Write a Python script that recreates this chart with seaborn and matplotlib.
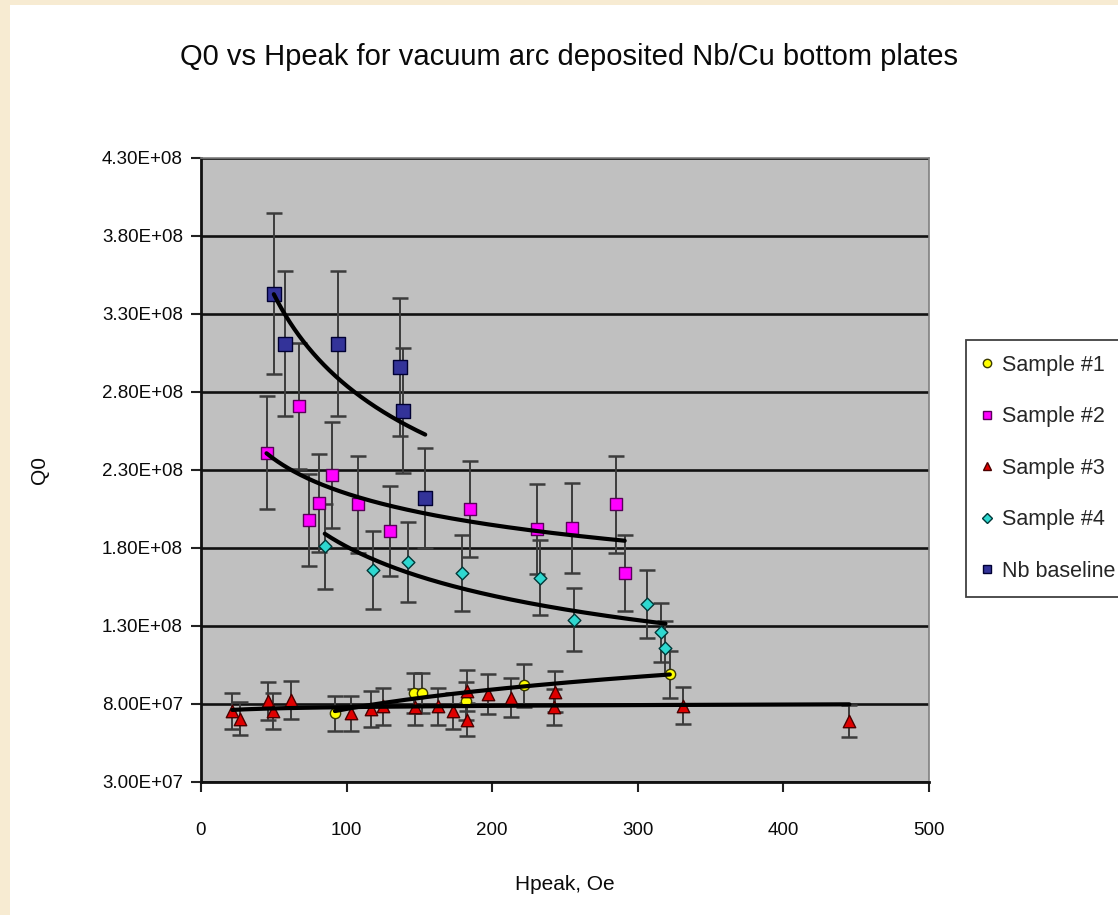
import numpy as np
import pandas as pd
import matplotlib
matplotlib.use("Agg")
import matplotlib.pyplot as plt
from matplotlib import font_manager
from matplotlib.lines import Line2D
from matplotlib.patches import Rectangle
import seaborn as sns

# Hpeak (Oe) and Q0 for each cavity bottom plate
s1_h = [92, 146, 152, 182, 222, 322]
s1_q = [0.74e8, 0.87e8, 0.87e8, 0.82e8, 0.92e8, 0.99e8]

s2_h = [45, 67, 74, 81, 90, 108, 130, 185, 231, 255, 285, 291]
s2_q = [2.41e8, 2.71e8, 1.98e8, 2.09e8, 2.27e8, 2.08e8, 1.91e8, 2.05e8,
        1.92e8, 1.93e8, 2.08e8, 1.64e8]

s3_h = [21.5, 26.8, 46.2, 49.7, 61.6, 102.8, 116.5, 125.2, 147, 163, 172.9,
        182.5, 182.9, 197.3, 212.7, 242.4, 243.1, 331.3, 445.3]
s3_q = [0.755e8, 0.705e8, 0.82e8, 0.755e8, 0.825e8, 0.74e8, 0.77e8, 0.785e8,
        0.78e8, 0.785e8, 0.755e8, 0.885e8, 0.70e8, 0.865e8, 0.84e8, 0.78e8,
        0.88e8, 0.79e8, 0.69e8]

s4_h = [85, 118, 142, 179, 233, 256, 306, 316, 319]
s4_q = [1.81e8, 1.66e8, 1.71e8, 1.64e8, 1.61e8, 1.34e8, 1.44e8, 1.26e8, 1.16e8]

nb_h = [50, 58, 94, 137, 139, 154]
nb_q = [3.43e8, 3.11e8, 3.11e8, 2.96e8, 2.68e8, 2.12e8]

series_names = ["Sample #1", "Sample #2", "Sample #3", "Sample #4", "Nb baseline"]
ERR_FRACTION = 0.15  # percentage error bars

y_ticks = [3.0e7, 8.0e7, 1.3e8, 1.8e8, 2.3e8, 2.8e8, 3.3e8, 3.8e8, 4.3e8]
x_ticks = [0, 100, 200, 300, 400, 500]

title_text = "Q0 vs Hpeak for vacuum arc deposited Nb/Cu bottom plates"
x_label = "Hpeak, Oe"
y_label = "Q0"


def pick_font(names):
    for n in names:
        try:
            font_manager.findfont(font_manager.FontProperties(family=n),
                                  fallback_to_default=False)
            return n
        except Exception:
            pass
    return "DejaVu Sans"


sns.set_theme(style="white")
font = pick_font(["Liberation Sans Narrow", "Liberation Sans", "Arial"])
plt.rcParams["font.family"] = [font, "DejaVu Sans"]

W, H = 1118, 915
fig = plt.figure(figsize=(W / 100, H / 100), dpi=100)
fig.patch.set_facecolor("white")

# parchment border strips along the left and top edges
fig.patches.append(Rectangle((0, 0), 10 / W, 1, transform=fig.transFigure,
                             facecolor="#F7EBD2", edgecolor="none", zorder=0))
fig.patches.append(Rectangle((0, 1 - 5 / H), 1, 5 / H, transform=fig.transFigure,
                             facecolor="#F7EBD2", edgecolor="none", zorder=0))

left, right, top, bottom = 201, 929, 158, 782
ax = fig.add_axes([left / W, 1 - bottom / H, (right - left) / W, (bottom - top) / H])
ax.set_facecolor("#C0C0C0")

frames = []
for name, h, q in zip(series_names, [s1_h, s2_h, s3_h, s4_h, nb_h],
                      [s1_q, s2_q, s3_q, s4_q, nb_q]):
    frames.append(pd.DataFrame({"Hpeak": h, "Q0": q, "series": name}))
df = pd.concat(frames, ignore_index=True)

styles = {
    "Sample #1": dict(marker="o", face="#FFFF00", edge="#3A3A00", s=55),
    "Sample #2": dict(marker="s", face="#FF00FF", edge="#5A005A", s=70),
    "Sample #3": dict(marker="^", face="#E00000", edge="#4A0000", s=80),
    "Sample #4": dict(marker="D", face="#2ED8D0", edge="#003838", s=42),
    "Nb baseline": dict(marker="s", face="#333399", edge="#000033", s=90),
}

# horizontal gridlines
for yt in y_ticks:
    ax.axhline(yt, color="#111111", lw=1.9, zorder=1)

# error bars
for name, g in df.groupby("series", sort=False):
    ax.errorbar(g["Hpeak"], g["Q0"], yerr=ERR_FRACTION * g["Q0"], fmt="none",
                ecolor="#3C3C3C", elinewidth=1.4, capsize=6, capthick=1.8,
                zorder=2)

# markers
for name in series_names:
    st = styles[name]
    g = df[df["series"] == name]
    sns.scatterplot(data=g, x="Hpeak", y="Q0", marker=st["marker"], s=st["s"],
                    color=st["face"], edgecolor=st["edge"], linewidth=1.0,
                    ax=ax, zorder=3, legend=False)

# power-law trendlines, Q0 = a * Hpeak^b
for name in series_names:
    g = df[df["series"] == name]
    b, ln_a = np.polyfit(np.log(g["Hpeak"]), np.log(g["Q0"]), 1)
    hx = np.linspace(g["Hpeak"].min(), g["Hpeak"].max(), 200)
    fit = pd.DataFrame({"Hpeak": hx, "Q0": np.exp(ln_a) * hx ** b})
    sns.lineplot(data=fit, x="Hpeak", y="Q0", color="black", lw=3.0, ax=ax,
                 zorder=4, legend=False)

ax.set_xlim(0, 500)
ax.set_ylim(3.0e7, 4.3e8)
ax.set_xticks(x_ticks)
ax.set_xticklabels([str(v) for v in x_ticks])
ax.set_yticks(y_ticks)
ax.set_yticklabels(["{:.2E}".format(v) for v in y_ticks])
ax.tick_params(axis="both", direction="out", length=7, width=1.5,
               color="#222222", labelsize=13.5, labelcolor="#0A0A0A", pad=6)
ax.tick_params(axis="x", pad=22)
ax.tick_params(left=True, bottom=True)

for side in ["left", "bottom"]:
    ax.spines[side].set_color("#111111")
    ax.spines[side].set_linewidth(2.0)
for side in ["right", "top"]:
    ax.spines[side].set_color("#808080")
    ax.spines[side].set_linewidth(1.2)

ax.set_xlabel("")
ax.set_ylabel("")
fig.text(565 / W, 1 - 884 / H, x_label, ha="center", va="center",
         fontsize=15, color="#0A0A0A")
fig.text(40 / W, 1 - 470 / H, y_label, ha="center", va="center",
         rotation=90, fontsize=15, color="#0A0A0A")
fig.text(569 / W, 1 - 57 / H, title_text, ha="center", va="center",
         fontsize=21, color="#0A0A0A")

handles = [Line2D([], [], linestyle="none", marker=styles[n]["marker"],
                  markerfacecolor=styles[n]["face"],
                  markeredgecolor=styles[n]["edge"],
                  markersize=6 if styles[n]["marker"] != "D" else 5)
           for n in series_names]
leg = fig.legend(handles, series_names, loc="upper left",
                 bbox_to_anchor=(966 / W, 1 - 340 / H), frameon=True,
                 fancybox=False, edgecolor="#111111", facecolor="white",
                 fontsize=15.5, labelspacing=1.42, handlelength=0.6,
                 handletextpad=0.4, borderpad=0.68, borderaxespad=0)
leg.get_frame().set_linewidth(1.3)

fig.savefig("out.png", dpi=100, facecolor=fig.get_facecolor())
